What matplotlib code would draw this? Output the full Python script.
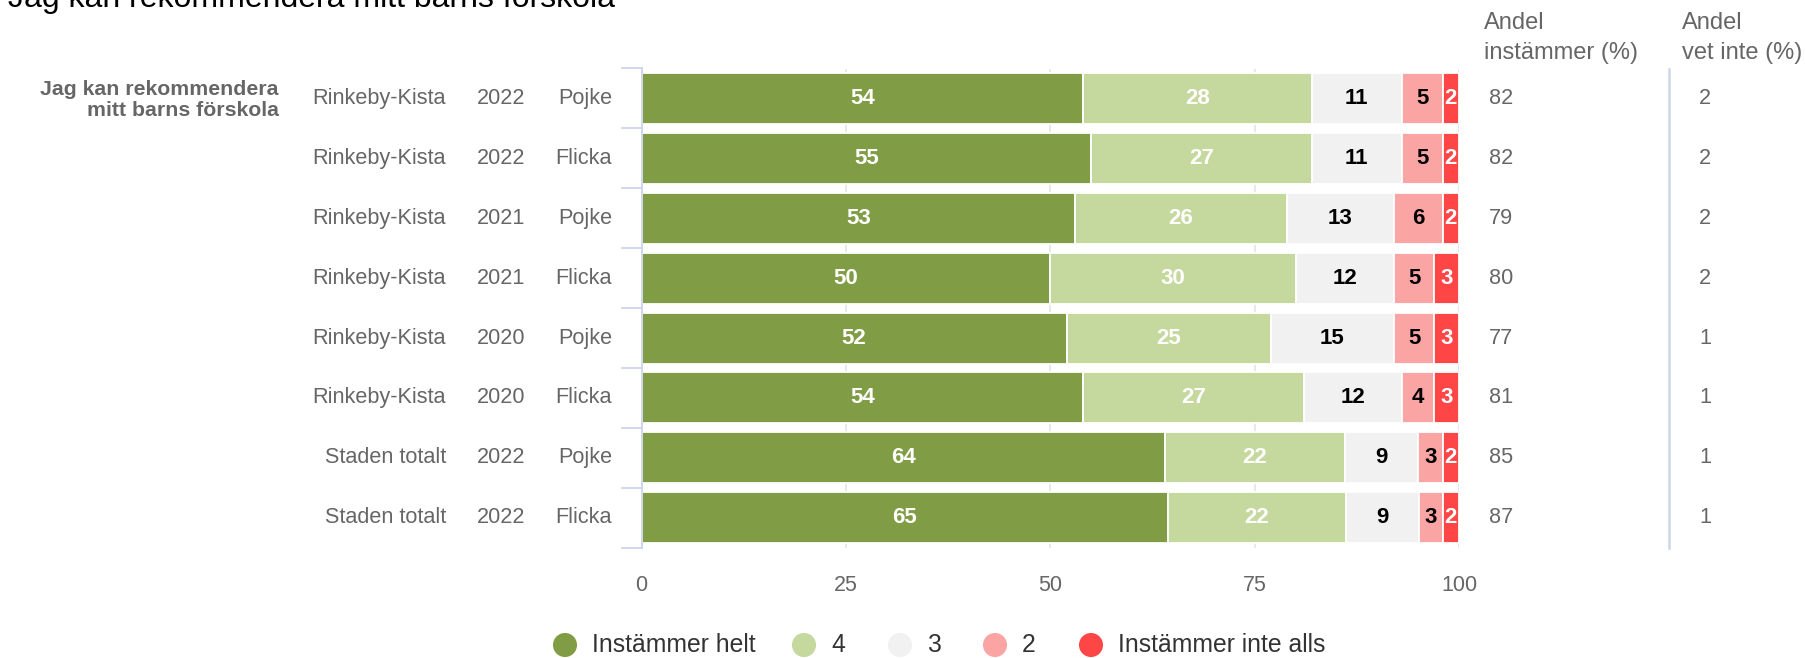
import matplotlib
matplotlib.use("Agg")
import matplotlib.pyplot as plt
from matplotlib.transforms import blended_transform_factory
import numpy as np

plt.rcParams['font.family'] = ['Liberation Sans', 'DejaVu Sans']

# ---------------- data ----------------
title = "Jag kan rekommendera mitt barns förskola"
group_label = ["Jag kan rekommendera", "mitt barns förskola"]
regions = ["Rinkeby-Kista"] * 6 + ["Staden totalt"] * 2
years = ["2022", "2022", "2021", "2021", "2020", "2020", "2022", "2022"]
genders = ["Pojke", "Flicka", "Pojke", "Flicka", "Pojke", "Flicka", "Pojke", "Flicka"]

series_names = ["Instämmer helt", "4", "3", "2", "Instämmer inte alls"]
helt = [54, 55, 53, 50, 52, 54, 64, 65]
v4 = [28, 27, 26, 30, 25, 27, 22, 22]
v3 = [11, 11, 13, 12, 15, 12, 9, 9]
v2 = [5, 5, 6, 5, 5, 4, 3, 3]
inte = [2, 2, 2, 3, 3, 3, 2, 2]
andel_instammer = [82, 82, 79, 80, 77, 81, 85, 87]
andel_vet_inte = [2, 2, 2, 2, 1, 1, 1, 1]
x_ticks = [0, 25, 50, 75, 100]

colors = ["#809c44", "#c5d89d", "#f1f1f1", "#fba4a4", "#ff4646"]
label_colors = ["white", "white", "black", "black", "white"]

# ---------------- layout ----------------
W, H = 1806, 658
fig = plt.figure(figsize=(W / 100, H / 100), dpi=100)

# overlay axes in pixel coordinates for the free text
ov = fig.add_axes([0, 0, 1, 1])
ov.set_xlim(0, W)
ov.set_ylim(H, 0)
ov.axis("off")

ax_left, ax_right, ax_top, ax_bot = 641.6, 1459.0, 68.5, 547.7
ax = fig.add_axes([ax_left / W, 1 - ax_bot / H, (ax_right - ax_left) / W, (ax_bot - ax_top) / H])
ax.patch.set_alpha(0)

n = len(helt)
y = np.arange(n)
data = np.array([helt, v4, v3, v2, inte], dtype=float)
totals = data.sum(axis=0)
pct = data / totals * 100.0

left = np.zeros(n)
for i in range(len(series_names)):
    ax.barh(y, pct[i], left=left, height=0.85, color=colors[i],
            edgecolor="white", linewidth=1.3, zorder=2)
    for j in range(n):
        ax.text(left[j] + pct[i][j] / 2, y[j], f"{int(data[i][j])}",
                ha="center", va="center", fontsize=16, fontweight="bold",
                color=label_colors[i], zorder=3)
    left += pct[i]

ax.set_xlim(0, 100)
ax.set_ylim(n - 0.5, -0.5)
ax.set_xticks(x_ticks)
ax.set_xticklabels([str(t) for t in x_ticks])
ax.set_yticks([])
ax.tick_params(axis="x", length=0, pad=20, labelsize=15.5, labelcolor="#666666")
ax.grid(axis="x", color="#e6e6e6", linewidth=1.3, zorder=0)
ax.set_axisbelow(True)
for s in ["top", "right", "bottom"]:
    ax.spines[s].set_visible(False)
ax.spines["left"].set_color("#ccd6eb")
ax.spines["left"].set_linewidth(1.3)
ax.spines["left"].set_zorder(4)

# row labels (figure-x, data-y)
tr = blended_transform_factory(ov.transData, ax.transData)
for j in range(n):
    ax.text(446, y[j], regions[j], transform=tr, ha="right", va="center",
            fontsize=15.6, color="#666666", clip_on=False)
    ax.text(501, y[j], years[j], transform=tr, ha="center", va="center",
            fontsize=15.6, color="#666666", clip_on=False)
    ax.text(612, y[j], genders[j], transform=tr, ha="right", va="center",
            fontsize=15.6, color="#666666", clip_on=False)
    ax.text(1489, y[j], f"{andel_instammer[j]}", transform=tr, ha="left", va="center",
            fontsize=15.6, color="#666666", clip_on=False)
    ax.text(1705, y[j], f"{andel_vet_inte[j]}", transform=tr, ha="center", va="center",
            fontsize=15.6, color="#666666", clip_on=False)

# bracket ticks of grouped categories
for b in np.arange(-0.5, n + 0.5, 1.0):
    ax.plot([622, 641.6], [b, b], transform=tr, color="#ccd6eb", lw=1.3, clip_on=False)

# vertical separator line
ov.plot([1669, 1669], [69, 548], color="#ccd6eb", lw=1.8)

# title (cut at the top edge, as in the reference)
ov.text(8, 7, title, ha="left", va="baseline", fontsize=23, color="#000000")

# group label
ov.text(279, 95, group_label[0], ha="right", va="baseline", fontsize=15.3,
        fontweight="bold", color="#666666")
ov.text(279, 116, group_label[1], ha="right", va="baseline", fontsize=15.3,
        fontweight="bold", color="#666666")

# column headers
ov.text(1484, 29, "Andel", ha="left", va="baseline", fontsize=17, color="#666666")
ov.text(1484, 59, "instämmer (%)", ha="left", va="baseline", fontsize=17, color="#666666")
ov.text(1682, 29, "Andel", ha="left", va="baseline", fontsize=17, color="#666666")
ov.text(1682, 59, "vet inte (%)", ha="left", va="baseline", fontsize=17, color="#666666")

# legend
leg_circle_x = [565, 804, 900, 995, 1091]
leg_y = 645
for cx, name, c in zip(leg_circle_x, series_names, colors):
    ov.scatter([cx], [leg_y], s=300, color=c, edgecolors="none")
    ov.text(cx + 27, leg_y, name, ha="left", va="center", fontsize=17.8, color="#333333")

fig.savefig("out.png", dpi=100)
